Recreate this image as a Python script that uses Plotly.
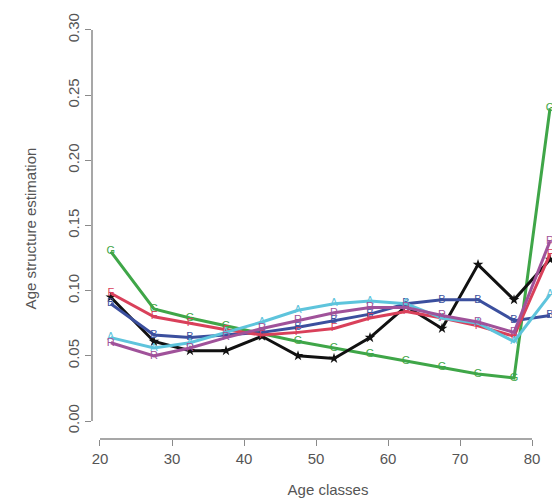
import plotly.graph_objects as go

ages = [21.5, 27.5, 32.5, 37.5, 42.5, 47.5, 52.5, 57.5, 62.5, 67.5, 72.5, 77.5, 82.5]

series_G = [0.130, 0.086, 0.079, 0.073, 0.067, 0.061, 0.056, 0.051, 0.046, 0.041, 0.036, 0.033, 0.240]
series_F = [0.098, 0.080, 0.075, 0.070, 0.066, 0.068, 0.071, 0.079, 0.084, 0.079, 0.073, 0.065, 0.128]
series_B = [0.090, 0.066, 0.064, 0.066, 0.068, 0.072, 0.077, 0.082, 0.090, 0.093, 0.093, 0.077, 0.081]
series_A = [0.064, 0.056, 0.060, 0.068, 0.076, 0.085, 0.090, 0.092, 0.090, 0.079, 0.075, 0.061, 0.097]
series_R = [0.060, 0.050, 0.056, 0.064, 0.071, 0.077, 0.083, 0.087, 0.087, 0.081, 0.076, 0.068, 0.138]
series_K = [0.095, 0.061, 0.054, 0.054, 0.065, 0.050, 0.048, 0.064, 0.088, 0.071, 0.120, 0.093, 0.124]

x_ticks = [20, 30, 40, 50, 60, 70, 80]
y_ticks = [0.00, 0.05, 0.10, 0.15, 0.20, 0.25, 0.30]

letter_traces = [
    (series_G, "G", "#3fa648"),
    (series_B, "B", "#3b4f9e"),
    (series_F, "F", "#d9405a"),
    (series_A, "A", "#5ec4dc"),
    (series_R, "R", "#a0529a"),
]

fig = go.Figure()
fig.add_trace(go.Scatter(
    x=ages, y=series_G, mode="lines+text",
    text=["G"] * len(ages), textposition="middle center",
    textfont=dict(family="Liberation Sans, Arial, sans-serif", size=11, color="#3fa648"),
    line=dict(color="#3fa648", width=3),
    cliponaxis=False, showlegend=False, hoverinfo="skip",
))
fig.add_trace(go.Scatter(
    x=ages, y=series_K, mode="lines+markers",
    marker=dict(symbol="star", size=8, color="#111111"),
    line=dict(color="#111111", width=3),
    cliponaxis=False, showlegend=False, hoverinfo="skip",
))
for vals, sym, col in letter_traces[1:]:
    fig.add_trace(go.Scatter(
        x=ages, y=vals, mode="lines+text",
        text=[sym] * len(ages), textposition="middle center",
        textfont=dict(family="Liberation Sans, Arial, sans-serif", size=11, color=col),
        line=dict(color=col, width=3),
        cliponaxis=False, showlegend=False, hoverinfo="skip",
    ))

axis_col = "#8a8a8a"
fig.add_shape(type="line", xref="paper", yref="y", x0=0, x1=0,
              y0=y_ticks[0], y1=y_ticks[-1], line=dict(color=axis_col, width=1.5))
fig.add_shape(type="line", xref="x", yref="paper", y0=0, y1=0,
              x0=x_ticks[0], x1=x_ticks[-1], line=dict(color=axis_col, width=1.5))

font_col = "#555555"
fig.update_layout(
    width=560, height=502,
    margin=dict(l=84, r=4, t=10, b=71),
    paper_bgcolor="white", plot_bgcolor="white",
    font=dict(family="Liberation Sans, Arial, sans-serif", size=14, color=font_col),
    xaxis=dict(range=[18.89, 84.44], tickvals=x_ticks, ticks="outside", ticklen=6,
               tickcolor=axis_col, showgrid=False, zeroline=False, showline=False,
               tickfont=dict(size=15, color=font_col),
               title=dict(text="Age classes", font=dict(size=15, color=font_col), standoff=18)),
    yaxis=dict(range=[-0.0138, 0.3092], tickvals=y_ticks, tickformat=".2f", ticks="outside",
               ticklen=6, tickcolor=axis_col, showgrid=False, zeroline=False, showline=False,
               tickangle=-90, tickfont=dict(size=15, color=font_col),
               title=dict(text="Age structure estimation", font=dict(size=15, color=font_col), standoff=24)),
)

fig.write_html("out.html")
